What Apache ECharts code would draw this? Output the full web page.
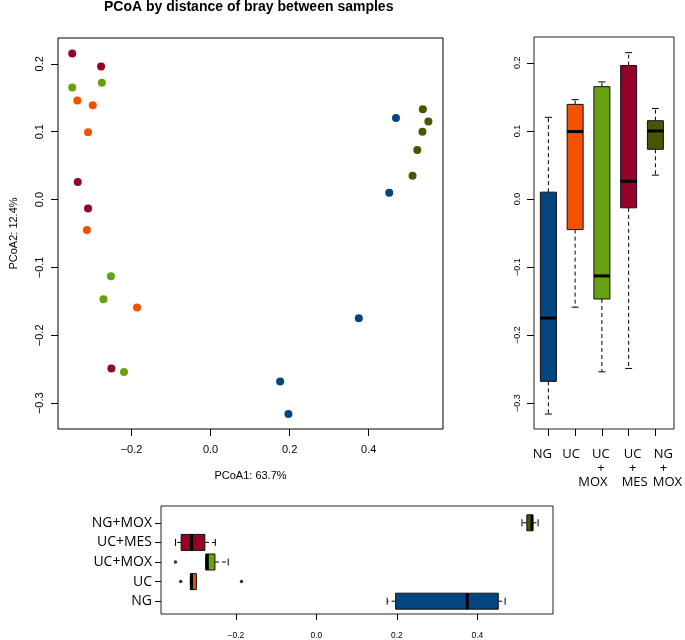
<!DOCTYPE html>
<html><head><meta charset="utf-8">
<script src="https://cdn.jsdelivr.net/npm/echarts@6/dist/echarts.min.js"></script>
<style>html,body{margin:0;padding:0;background:#fff}#c{width:685px;height:640px}</style>
</head><body><div id="c"></div>
<script>
// ---- data ----
const groups = ['NG', 'UC', 'UC+MOX', 'UC+MES', 'NG+MOX'];
const boxTickLabels = ['NG', 'UC', 'UC\n+\nMOX', 'UC\n+\nMES', 'NG\n+\nMOX'];
const ngPC1     = [0.469, 0.452, 0.375, 0.176, 0.197];
const ngPC2     = [0.120, 0.010, -0.175, -0.268, -0.316];
const ucPC1     = [-0.337, -0.298, -0.310, -0.313, -0.186];
const ucPC2     = [0.146, 0.139, 0.099, -0.045, -0.159];
const ucmoxPC1  = [-0.350, -0.275, -0.252, -0.271, -0.219];
const ucmoxPC2  = [0.165, 0.172, -0.113, -0.147, -0.254];
const ucmesPC1  = [-0.350, -0.277, -0.336, -0.310, -0.251];
const ucmesPC2  = [0.215, 0.196, 0.026, -0.013, -0.249];
const ngmoxPC1  = [0.537, 0.551, 0.536, 0.523, 0.511];
const ngmoxPC2  = [0.133, 0.115, 0.100, 0.073, 0.035];
const xTicks = [-0.2, 0.0, 0.2, 0.4];
const yTicks = [-0.3, -0.2, -0.1, 0.0, 0.1, 0.2];

// ---- styling ----
const colors = ['#03467f', '#f25200', '#66a10f', '#950029', '#4b5502'];
const XMIN = -0.386, XMAX = 0.588, YMIN = -0.338, YMAX = 0.238;
const PC1 = [ngPC1, ucPC1, ucmoxPC1, ucmesPC1, ngmoxPC1];
const PC2 = [ngPC2, ucPC2, ucmoxPC2, ucmesPC2, ngmoxPC2];
const fmt = v => (v < 0 ? '\u2212' : '') + Math.abs(v).toFixed(1);
const HELV = 'Liberation Sans';
const CATF = 'Open Sans';
// horizontal nudges (px) of the right-hand category labels: [upper lines, last line]
const labelShift = [[-6, -6], [-4, -4], [-1, -9], [4, 6], [8, 12]];

function fivenum(a) {
  const x = [...a].sort((p, q) => p - q), n = x.length;
  const n4 = Math.floor((n + 3) / 2) / 2;
  const d = [1, n4, (n + 1) / 2, n + 1 - n4, n];
  return d.map(v => 0.5 * (x[Math.floor(v) - 1] + x[Math.ceil(v) - 1]));
}
function boxStats(a) {
  const f = fivenum(a), iqr = f[3] - f[1];
  const loF = f[1] - 1.5 * iqr, hiF = f[3] + 1.5 * iqr;
  const inside = a.filter(v => v >= loF && v <= hiF);
  const out = a.filter(v => v < loF || v > hiF);
  return { lo: Math.min(...inside), q1: f[1], md: f[2], q3: f[3], hi: Math.max(...inside), out };
}

const BOX_HALF = 8, CAP_HALF = 3.5;
const dashStyle = { stroke: '#000', lineWidth: 1, lineDash: [4, 3] };
const solid = { stroke: '#000', lineWidth: 1 };

function boxV(params, api) {
  const c = api.value(0);
  const pLo = api.coord([c, api.value(1)]), pQ1 = api.coord([c, api.value(2)]),
        pMd = api.coord([c, api.value(3)]), pQ3 = api.coord([c, api.value(4)]),
        pHi = api.coord([c, api.value(5)]);
  const x = pMd[0];
  return { type: 'group', children: [
    { type: 'line', shape: { x1: x, y1: pQ1[1], x2: x, y2: pLo[1] }, style: dashStyle },
    { type: 'line', shape: { x1: x, y1: pQ3[1], x2: x, y2: pHi[1] }, style: dashStyle },
    { type: 'line', shape: { x1: x - CAP_HALF, y1: pLo[1], x2: x + CAP_HALF, y2: pLo[1] }, style: solid },
    { type: 'line', shape: { x1: x - CAP_HALF, y1: pHi[1], x2: x + CAP_HALF, y2: pHi[1] }, style: solid },
    { type: 'rect', shape: { x: x - BOX_HALF, y: pQ3[1], width: 2 * BOX_HALF, height: pQ1[1] - pQ3[1] },
      style: { fill: colors[c], stroke: '#111', lineWidth: 1 } },
    { type: 'line', shape: { x1: x - BOX_HALF, y1: pMd[1], x2: x + BOX_HALF, y2: pMd[1] }, style: { stroke: '#000', lineWidth: 3 } }
  ]};
}
function boxH(params, api) {
  const c = api.value(0);
  const pLo = api.coord([api.value(1), c]), pQ1 = api.coord([api.value(2), c]),
        pMd = api.coord([api.value(3), c]), pQ3 = api.coord([api.value(4), c]),
        pHi = api.coord([api.value(5), c]);
  const y = pMd[1];
  return { type: 'group', children: [
    { type: 'line', shape: { x1: pQ1[0], y1: y, x2: pLo[0], y2: y }, style: dashStyle },
    { type: 'line', shape: { x1: pQ3[0], y1: y, x2: pHi[0], y2: y }, style: dashStyle },
    { type: 'line', shape: { x1: pLo[0], y1: y - CAP_HALF, x2: pLo[0], y2: y + CAP_HALF }, style: solid },
    { type: 'line', shape: { x1: pHi[0], y1: y - CAP_HALF, x2: pHi[0], y2: y + CAP_HALF }, style: solid },
    { type: 'rect', shape: { x: pQ1[0], y: y - BOX_HALF, width: pQ3[0] - pQ1[0], height: 2 * BOX_HALF },
      style: { fill: colors[c], stroke: '#111', lineWidth: 1 } },
    { type: 'line', shape: { x1: pMd[0], y1: y - BOX_HALF, x2: pMd[0], y2: y + BOX_HALF }, style: { stroke: '#000', lineWidth: 3 } }
  ]};
}

const statsV = PC2.map(boxStats), statsH = PC1.map(boxStats);
const boxDataV = statsV.map((s, i) => [i, s.lo, s.q1, s.md, s.q3, s.hi]);
const boxDataH = statsH.map((s, i) => [i, s.lo, s.q1, s.md, s.q3, s.hi]);
const outH = [];
statsH.forEach((s, i) => s.out.forEach(v => outH.push([v, i])));

const noLine = { show: false, onZero: false };
const hidden = { show: false };
const tickOut = (len) => ({ show: true, length: len, lineStyle: { color: '#000', width: 1 } });

// rich styles to nudge right-hand category label lines
const rich = {};
labelShift.forEach((s, i) => {
  s.forEach((d, j) => {
    rich['s' + i + '_' + j] = { fontSize: 13, lineHeight: 14, color: '#000', fontFamily: CATF,
      padding: d >= 0 ? [0, 0, 0, 2 * d] : [0, -2 * d, 0, 0] };
  });
});
function catLabel(value, idx) {
  const lines = value.split('\n');
  return lines.map((ln, k) => '{s' + idx + '_' + (k === lines.length - 1 && lines.length > 1 ? 1 : 0) + '|' + ln + '}').join('\n');
}

const option = {
  animation: false,
  backgroundColor: '#fff',
  title: { text: 'PCoA by distance of bray between samples', left: 104, top: 0, padding: 0,
    textStyle: { fontFamily: HELV, fontWeight: 'bold', fontSize: 14, color: '#000' } },
  grid: [
    { left: 50, top: 38, width: 393, height: 391, show: true, borderColor: '#000', borderWidth: 1, backgroundColor: 'transparent' },
    { left: 534, top: 37, width: 140, height: 392, show: true, borderColor: '#222', borderWidth: 1, backgroundColor: 'transparent' },
    { left: 535, top: 37, width: 134.5, height: 392, show: false },
    { left: 161, top: 506, width: 392, height: 109, show: true, borderColor: '#222', borderWidth: 1, backgroundColor: 'transparent' },
    { left: 161, top: 513, width: 392, height: 98, show: false }
  ],
  xAxis: [
    { gridIndex: 0, type: 'value', min: XMIN, max: XMAX, axisLine: noLine, splitLine: hidden,
      axisTick: Object.assign(tickOut(7), { customValues: xTicks }),
      axisLabel: { customValues: xTicks, formatter: fmt, fontSize: 11, margin: 15, color: '#000', fontFamily: HELV },
      name: 'PCoA1: 63.7%', nameLocation: 'middle', nameGap: 41,
      nameTextStyle: { fontSize: 11, color: '#000', fontFamily: HELV } },
    { gridIndex: 1, type: 'value', min: 0, max: 1, show: false, axisLine: noLine },
    { gridIndex: 2, type: 'category', data: boxTickLabels, axisLine: noLine, splitLine: hidden,
      axisTick: Object.assign(tickOut(7), { alignWithLabel: true }),
      axisLabel: { interval: 0, fontSize: 13, lineHeight: 14, margin: 18, color: '#000', fontFamily: CATF,
        formatter: catLabel, rich: rich } },
    { gridIndex: 3, type: 'value', min: XMIN, max: XMAX, axisLine: noLine, splitLine: hidden,
      axisTick: Object.assign(tickOut(6), { customValues: xTicks }),
      axisLabel: { customValues: xTicks, formatter: fmt, fontSize: 8.5, margin: 17, color: '#000', fontFamily: HELV } },
    { gridIndex: 4, type: 'value', min: XMIN, max: XMAX, show: false, axisLine: noLine }
  ],
  yAxis: [
    { gridIndex: 0, type: 'value', min: YMIN, max: YMAX, axisLine: noLine, splitLine: hidden,
      axisTick: Object.assign(tickOut(7), { customValues: yTicks }),
      axisLabel: { customValues: yTicks, formatter: fmt, rotate: 90, fontSize: 11, margin: 13, color: '#000', fontFamily: HELV },
      name: 'PCoA2: 12.4%', nameLocation: 'middle', nameGap: 39,
      nameTextStyle: { fontSize: 11, color: '#000', fontFamily: HELV } },
    { gridIndex: 1, type: 'value', min: YMIN, max: YMAX, axisLine: noLine, splitLine: hidden,
      axisTick: Object.assign(tickOut(7), { customValues: yTicks }),
      axisLabel: { customValues: yTicks, formatter: fmt, rotate: 90, fontSize: 9, margin: 12, color: '#000', fontFamily: HELV } },
    { gridIndex: 2, type: 'value', min: YMIN, max: YMAX, show: false, axisLine: noLine },
    { gridIndex: 3, type: 'value', min: 0, max: 1, show: false, axisLine: noLine },
    { gridIndex: 4, type: 'category', data: groups, axisLine: noLine, splitLine: hidden,
      axisTick: Object.assign(tickOut(6), { alignWithLabel: true }),
      axisLabel: { interval: 0, fontSize: 14, margin: 9, color: '#000', fontFamily: CATF } }
  ],
  series: [
    ...groups.map((g, i) => ({
      name: g, type: 'scatter', xAxisIndex: 0, yAxisIndex: 0, symbolSize: 8,
      itemStyle: { color: colors[i], opacity: 1 },
      data: PC1[i].map((v, k) => [v, PC2[i][k]])
    })),
    { type: 'custom', xAxisIndex: 2, yAxisIndex: 2, renderItem: boxV,
      encode: { x: 0, y: [1, 2, 3, 4, 5] }, data: boxDataV },
    { type: 'custom', xAxisIndex: 4, yAxisIndex: 4, renderItem: boxH,
      encode: { y: 0, x: [1, 2, 3, 4, 5] }, data: boxDataH },
    { type: 'scatter', xAxisIndex: 4, yAxisIndex: 4, symbolSize: 3.5,
      itemStyle: { color: '#000' }, data: outH }
  ]
};
const chart = echarts.init(document.getElementById('c'), null, { renderer: 'canvas' });
chart.setOption(option);
</script>
</body></html>
